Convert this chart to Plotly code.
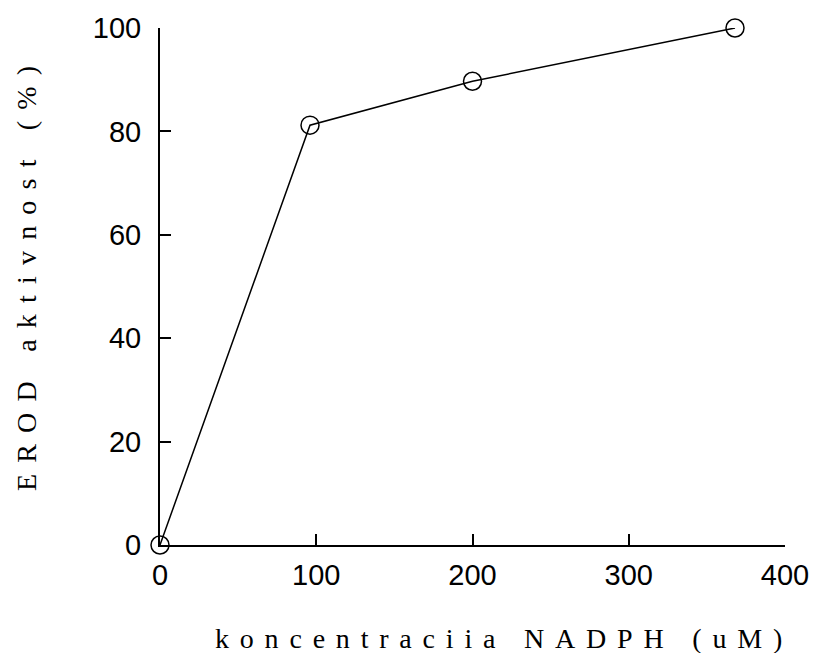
import plotly.graph_objects as go

nadph_um = [0, 96, 200, 368]
erod_pct = [0, 81.2, 89.7, 100]
x_ticks = [0, 100, 200, 300, 400]
y_ticks = [0, 20, 40, 60, 80, 100]
x_title = "koncentraciia NADPH (uM)"
y_title = "EROD aktivnost (%)"

def spaced(s, ls):
    return '<span style="letter-spacing:%.1fpx">%s</span>' % (ls, s)

fig = go.Figure()
fig.add_trace(go.Scatter(
    x=nadph_um, y=erod_pct, mode="lines+markers",
    line=dict(color="black", width=1.5),
    marker=dict(symbol="circle-open", size=18, color="black", line=dict(width=1.5)),
    cliponaxis=False, showlegend=False,
))

axis_common = dict(
    showgrid=False, zeroline=False, showline=True, linecolor="black", linewidth=2,
    ticks="inside", ticklen=11, tickwidth=2, tickcolor="black", automargin=False,
    tickfont=dict(family="Liberation Sans, Arial, sans-serif", size=29, color="black"),
)
fig.update_xaxes(range=[0, 400], tickvals=x_ticks, ticklabelstandoff=3, **axis_common)
fig.update_yaxes(range=[0, 100], tickvals=y_ticks, ticklabelstandoff=11, **axis_common)

title_font = dict(family="Liberation Serif, serif", size=28, color="black")
fig.add_annotation(text=spaced(x_title, 10.8), xref="paper", yref="paper", x=0.5504, y=-0.18,
                   xanchor="center", yanchor="middle", showarrow=False, font=title_font)
fig.add_annotation(text=spaced(y_title, 11.2), xref="paper", yref="paper", x=-0.2144, y=0.526,
                   xanchor="center", yanchor="middle", textangle=-90, showarrow=False,
                   font=title_font)

fig.update_layout(
    width=815, height=653,
    margin=dict(l=160, r=30, t=28, b=108),
    paper_bgcolor="white", plot_bgcolor="white",
)
fig.write_html("out.html")
